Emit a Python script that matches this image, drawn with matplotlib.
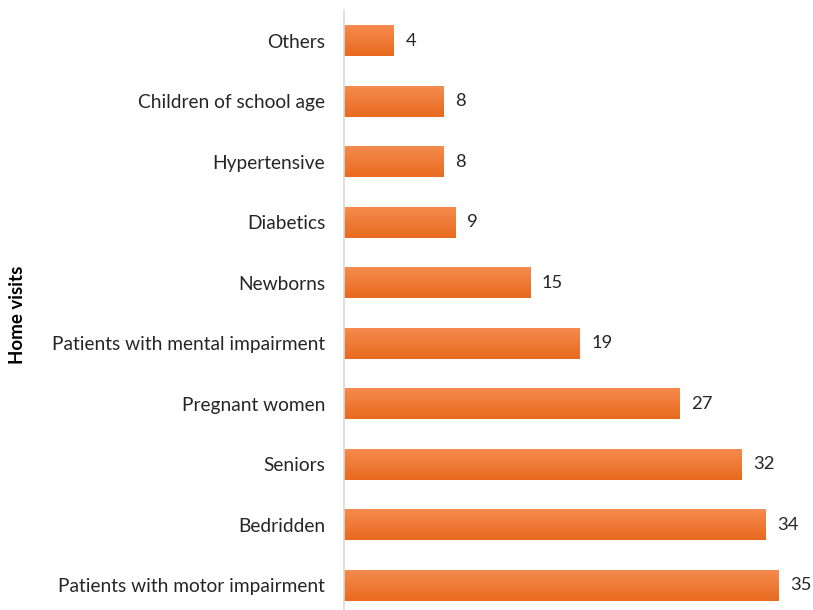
import matplotlib.pyplot as plt
import numpy as np
from matplotlib.colors import LinearSegmentedColormap

# --- Data (bottom to top) ---
categories = ["Patients with motor impairment", "Bedridden", "Seniors",
              "Pregnant women", "Patients with mental impairment", "Newborns",
              "Diabetics", "Hypertensive", "Children of school age", "Others"]
visits = [35, 34, 32, 27, 19, 15, 9, 8, 8, 4]

plt.rcParams['font.family'] = ['Lato', 'DejaVu Sans']

fig = plt.figure(figsize=(8.13, 6.10), dpi=100)
ax = fig.add_axes([344 / 813, 0, 1 - 344 / 813, 600 / 610])

y = np.arange(len(categories))
bars = ax.barh(y, visits, height=0.51, color='none', edgecolor='none')

# --- vertical gradient for each bar ---
grad = LinearSegmentedColormap.from_list('og', ['#e86a1f', '#f58b4e'])
g = np.linspace(0, 1, 64).reshape(-1, 1)
for b in bars:
    x0, y0, w, h = b.get_x(), b.get_y(), b.get_width(), b.get_height()
    ax.imshow(g, cmap=grad, aspect='auto', origin='lower',
              extent=[x0, x0 + w, y0, y0 + h], zorder=2)
    ax.text(x0 + w + 0.95, y0 + h / 2, f"{w:g}", va='center', ha='left',
            fontsize=13.2, color='#262626')

ax.set_xlim(0, 37.8)
ax.set_ylim(-0.41, 9.51)
ax.set_yticks(y)
ax.set_yticklabels(categories, fontsize=13.8, color='#262626')
ax.tick_params(axis='y', length=0, pad=13.5)
ax.set_xticks([])
for s in ['top', 'right', 'bottom']:
    ax.spines[s].set_visible(False)
ax.spines['left'].set_color('#d9d9d9')
ax.spines['left'].set_linewidth(1.2)

fig.text(18 / 813, 1 - 315 / 610, "Home visits", rotation=90, va='center',
         ha='center', fontsize=13.5, fontweight='bold', color='#000000')

fig.savefig('out.png', dpi=100)
